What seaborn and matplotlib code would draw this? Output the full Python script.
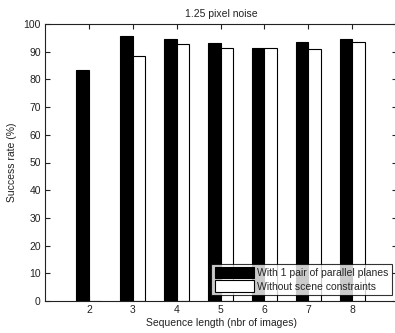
import pandas as pd
import matplotlib
matplotlib.use("Agg")
import matplotlib.pyplot as plt
import seaborn as sns

seq_lengths = [2, 3, 4, 5, 6, 7, 8]
with_planes = [83.4, 95.7, 94.6, 93.3, 91.3, 93.5, 94.6]
without_constraints = [0.0, 88.4, 92.7, 91.4, 91.3, 91.1, 93.5]
series_names = ["With 1 pair of parallel planes", "Without scene constraints"]

df = pd.DataFrame({
    "length": seq_lengths * 2,
    "rate": with_planes + without_constraints,
    "method": [series_names[0]] * len(seq_lengths) + [series_names[1]] * len(seq_lengths),
})

sns.set_style("white")
plt.rcParams["font.family"] = ["Liberation Sans", "DejaVu Sans"]

fig = plt.figure(figsize=(3.95, 3.33), dpi=100)
ax = fig.add_axes([45 / 395, 32 / 333, 352 / 395, 277 / 333])

sns.barplot(data=df, x="length", y="rate", hue="method", hue_order=series_names,
            palette=["black", "white"], width=0.57, edgecolor="black",
            linewidth=0.8, saturation=1, ax=ax)

ax.set_xlim(-1, 7.02)
ax.set_ylim(0, 100)
ax.set_yticks(range(0, 101, 10))
ax.tick_params(direction="in", length=3.5, labelsize=7.5, colors="#222",
               top=True, right=True, bottom=True, left=True, pad=3)
for s in ax.spines.values():
    s.set_color("#222")
    s.set_linewidth(0.8)

ax.set_title("1.25 pixel noise", fontsize=7.5, color="#222", pad=5)
ax.set_xlabel("Sequence length (nbr of images)", fontsize=7.5, color="#222", labelpad=2)
ax.set_ylabel("Success rate (%)", fontsize=7.5, color="#222", labelpad=5)

leg = ax.legend(loc="lower right", bbox_to_anchor=(0.985, 0.022), fontsize=7.5,
                frameon=True, fancybox=False, handlelength=3.8, handleheight=1.3,
                borderpad=0.3, labelspacing=0.2, handletextpad=0.3, borderaxespad=0)
leg.get_frame().set_edgecolor("black")
leg.get_frame().set_linewidth(0.8)

fig.savefig("out.png", dpi=100)
